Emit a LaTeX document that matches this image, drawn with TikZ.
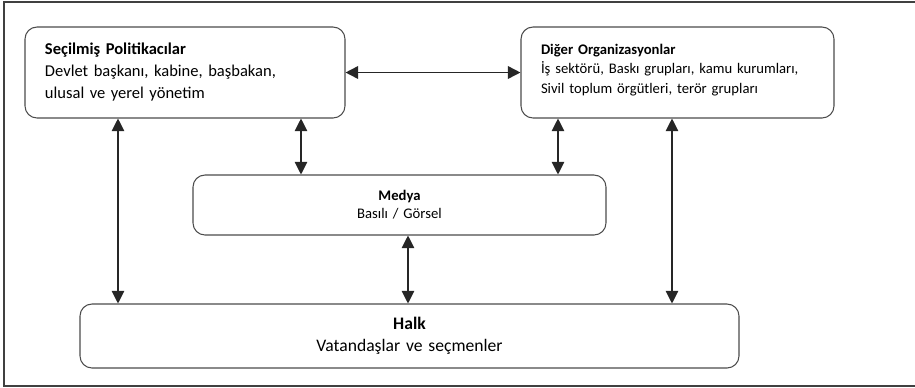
\documentclass[tikz,border=0pt]{standalone}
\usepackage{fontspec}
\setmainfont{Carlito}
\usepackage{tikz}
\usetikzlibrary{arrows.meta}

\begin{document}
\begin{tikzpicture}[x=0.75pt, y=-0.75pt, line width=0.8pt,
    box/.style={draw=black!70, rounded corners=9pt, inner xsep=15pt, inner ysep=0pt},
    link/.style={{Triangle[length=9.5pt,width=9.5pt]}-{Triangle[length=9.5pt,width=9.5pt]}, draw=black!85}]
    \useasboundingbox (0,0) rectangle (915,387);
    \draw[black!75] (4,2) rectangle (930,386);

    \node[box, minimum width=240pt, minimum height=68.25pt, text width=210pt, align=left,
        font={\fontsize{12.4}{16.5}\selectfont}] (pol) at (185,72.5)
        {\textbf{Seçilmiş Politikacılar}\\Devlet başkanı, kabine, başbakan,\\ulusal ve yerel yönetim};
    \node[box, minimum width=234.75pt, minimum height=68.25pt, text width=204.75pt, align=left,
        font={\fontsize{11}{14.6}\selectfont}] (org) at (677.5,72.5)
        {\textbf{Diğer Organizasyonlar}\\İş sektörü, Baskı grupları, kamu kurumları,\\Sivil toplum örgütleri, terör grupları\\[-8.6pt]\mbox{}};
    \node[box, minimum width=309.75pt, minimum height=45pt, text width=279.75pt, align=center,
        font={\fontsize{11}{13.5}\selectfont}] (medya) at (399.5,205)
        {\textbf{Medya}\\Basılı / Görsel};
    \node[box, minimum width=494.25pt, minimum height=48pt, text width=464.25pt, align=center,
        font={\fontsize{13.2}{16.5}\selectfont}] (halk) at (409.5,336)
        {\textbf{Halk}\\Vatandaşlar ve seçmenler};

    \draw[link, line width=1.2pt] (pol.east) -- (org.west);
    \draw[link] (pol.south -| 118,0) -- (halk.north -| 118,0);
    \draw[link] (pol.south -| 301,0) -- (medya.north -| 301,0);
    \draw[link] (org.south -| 558,0) -- (medya.north -| 558,0);
    \draw[link] (medya.south -| 408,0) -- (halk.north -| 408,0);
    \draw[link] (org.south -| 672,0) -- (halk.north -| 672,0);
\end{tikzpicture}
\end{document}
